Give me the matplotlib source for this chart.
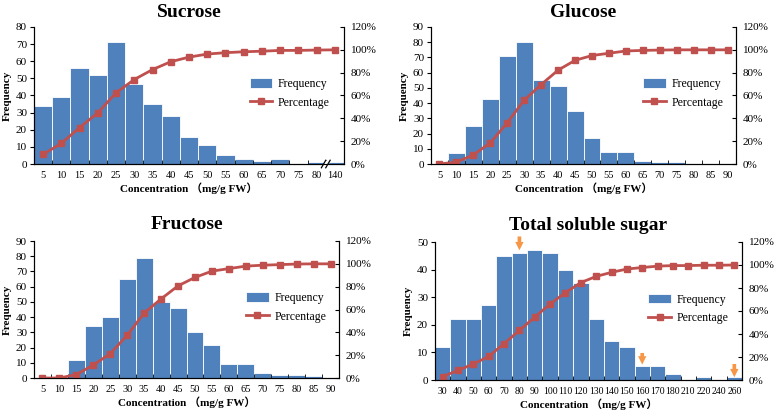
import numpy as np
import matplotlib
matplotlib.use('Agg')
import matplotlib.pyplot as plt
from matplotlib.ticker import FixedLocator, FuncFormatter

plt.rcParams['font.family'] = ['Liberation Serif', 'Noto Sans CJK SC']

# data
sucrose_cats = ['5', '10', '15', '20', '25', '30', '35', '40', '45', '50', '55', '60', '65', '70', '75', '80', '140']
sucrose_freq = [34, 39, 56, 52, 71, 47, 35, 28, 16, 11, 5, 3, 2, 3, 0, 1, 1]
sucrose_pct = [8.4, 18.1, 31.9, 44.8, 62.4, 74.0, 82.7, 89.6, 93.6, 96.3, 97.5, 98.3, 98.8, 99.5, 99.5, 99.8, 100]

glucose_cats = ['5', '10', '15', '20', '25', '30', '35', '40', '45', '50', '55', '60', '65', '70', '75', '80', '85', '90']
glucose_freq = [0, 7, 25, 43, 71, 80, 55, 51, 35, 17, 8, 8, 2, 1, 1, 0, 0, 0]
glucose_pct = [0, 1.7, 7.9, 18.6, 36.1, 55.9, 69.6, 82.2, 90.8, 95.0, 97.0, 99.0, 99.5, 99.8, 100, 100, 100, 100]

fructose_cats = ['5', '10', '15', '20', '25', '30', '35', '40', '45', '50', '55', '60', '65', '70', '75', '80', '85', '90']
fructose_freq = [0, 0, 12, 34, 40, 65, 79, 50, 46, 30, 22, 9, 9, 3, 2, 2, 1, 0]
fructose_pct = [0, 0, 3.0, 11.4, 21.3, 37.4, 56.9, 69.3, 80.7, 88.1, 93.6, 95.8, 98.0, 98.8, 99.3, 99.8, 100, 100]

total_cats = ['30', '40', '50', '60', '70', '80', '90', '100', '110', '120', '130', '140', '150', '160', '170', '180', '210', '220', '240', '260']
total_freq = [12, 22, 22, 27, 45, 46, 47, 46, 40, 35, 22, 14, 12, 5, 5, 2, 0, 1, 0, 1]
total_pct = [3.0, 8.4, 13.9, 20.5, 31.7, 43.1, 54.7, 66.1, 76.0, 84.7, 90.1, 93.6, 96.5, 97.8, 99.0, 99.5, 99.5, 99.8, 99.8, 100]
arrow_cats = ['80', '160', '260']

bar_color = '#4F81BD'
line_color = '#C0504D'
arrow_color = '#F79646'


def panel(rect, title, cats, freq, pct, ymax, ystep, xsize=7.5, tpad=9):
    ax = fig.add_axes(rect)
    n = len(cats)
    x = np.arange(n)
    bars = ax.bar(x, freq, width=1.0, color=bar_color, edgecolor='white', linewidth=0.6, label='Frequency')
    ax.set_xlim(-0.5, n - 0.5)
    ax.set_ylim(0, ymax)
    ax.set_yticks(np.arange(0, ymax + 1, ystep))
    ax.set_xticks(x)
    ax.set_xticklabels(cats)
    ax.xaxis.set_minor_locator(FixedLocator(np.arange(0.5, n - 1, 1.0)))
    ax.tick_params(axis='x', which='major', length=0, labelsize=xsize, pad=5)
    ax.tick_params(axis='x', which='minor', length=3, direction='in')
    ax.tick_params(axis='y', direction='out', length=3, labelsize=8, pad=2)
    ax.spines['top'].set_visible(False)
    ax.set_ylabel('Frequency', fontsize=8, fontweight='bold', labelpad=3)
    ax.set_xlabel('Concentration （mg/g FW）', fontsize=8, fontweight='bold', labelpad=2)
    ax.set_title(title, fontsize=14, fontweight='bold', pad=tpad)

    ax2 = ax.twinx()
    line, = ax2.plot(x, np.array(pct) / 100.0, color=line_color, lw=2, marker='s', ms=4, label='Percentage')
    ax2.set_ylim(0, 1.2)
    ax2.set_yticks(np.arange(0, 1.21, 0.2))
    ax2.yaxis.set_major_formatter(FuncFormatter(lambda v, p: '%d%%' % round(v * 100)))
    ax2.tick_params(axis='y', direction='in', length=3, labelsize=8, pad=5)
    ax2.spines['top'].set_visible(False)
    ax2.legend([bars, line], ['Frequency', 'Percentage'], loc='upper left', bbox_to_anchor=(0.68, 0.66),
               frameon=False, fontsize=8.5, handlelength=1.9, handleheight=0.9, handletextpad=0.5,
               borderaxespad=0, labelspacing=0.55)
    return ax, ax2


fig = plt.figure(figsize=(7.76, 4.11), dpi=100)
W, H = 776.0, 411.0


def r(l, t, rr, b):
    return [l / W, 1 - b / H, (rr - l) / W, (b - t) / H]


ax, _ = panel(r(34, 27, 344, 164), 'Sucrose', sucrose_cats, sucrose_freq, sucrose_pct, 80, 10, tpad=7)
# axis break between 80 and 140
ax.fill_between([15.38, 15.62], [-1.5, -1.5], [1.5, 1.5], color='white', zorder=4, clip_on=False)
for dx in (-0.12, 0.12):
    ax.plot([15.5 + dx - 0.12, 15.5 + dx + 0.12], [-2.2, 2.2], color='black', lw=0.9, clip_on=False, zorder=5)

panel(r(431, 27, 736, 164), 'Glucose', glucose_cats, glucose_freq, glucose_pct, 90, 10, tpad=7)
panel(r(34, 241, 339, 378), 'Fructose', fructose_cats, fructose_freq, fructose_pct, 90, 10)
ax, _ = panel(r(435, 242, 742, 380), 'Total soluble sugar', total_cats, total_freq, total_pct, 50, 10, xsize=7)

arrow_spans = [(52.0, 47.0), (9.8, 5.6), (5.8, 1.0)]
for c, (y0, y1) in zip(arrow_cats, arrow_spans):
    i = total_cats.index(c)
    ax.annotate('', xy=(i, y1), xytext=(i, y0), annotation_clip=False,
                arrowprops=dict(arrowstyle='simple,head_width=0.5,head_length=0.5,tail_width=0.22',
                                mutation_scale=12, color=arrow_color, lw=0, shrinkA=0, shrinkB=0))

fig.savefig('out.png', dpi=100)
